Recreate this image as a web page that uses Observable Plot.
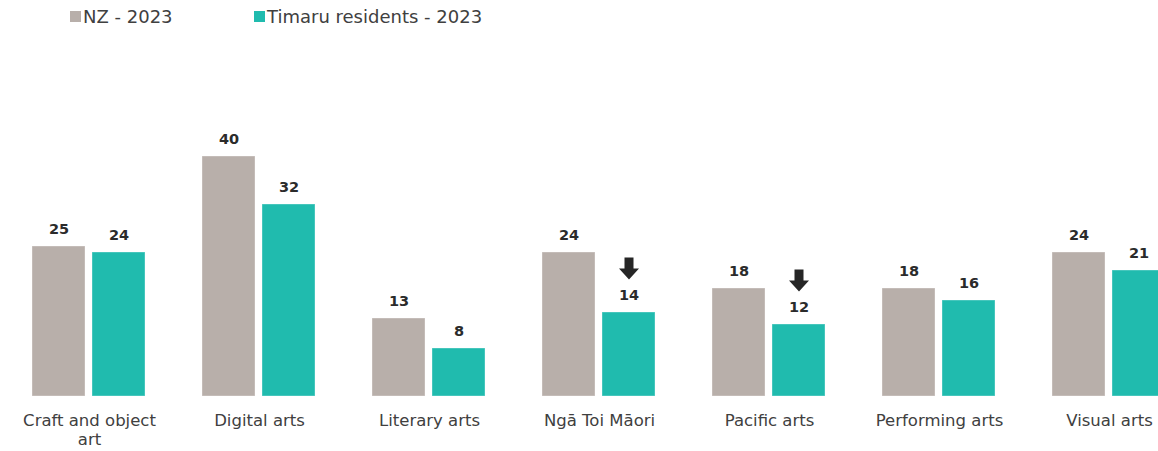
<!DOCTYPE html>
<html>
<head>
<meta charset="utf-8">
<script src="https://cdn.jsdelivr.net/npm/d3@7"></script>
<script src="https://cdn.jsdelivr.net/npm/@observablehq/plot@0.6"></script>
<style>
  body { margin: 0; background: #fff; }
  #wrap { position: relative; width: 1158px; height: 451px; overflow: hidden; font-family: "DejaVu Sans", sans-serif; color: #404040; }
  #legend { position: absolute; top: 0; left: 0; width: 1158px; height: 34px; }
  .item { position: absolute; top: 6px; font-size: 18px; line-height: 22px; white-space: nowrap; }
  .sw { display: inline-block; width: 11px; height: 11px; margin-right: 2px; vertical-align: 1px; }
  #chart { position: absolute; top: 0; left: 0; }
</style>
</head>
<body>
<div id="wrap">
  <div id="chart"></div>
  <div id="legend"></div>
</div>
<script>
const categories = ["Craft and object art", "Digital arts", "Literary arts", "Ngā Toi Māori", "Pacific arts", "Performing arts", "Visual arts"];
const series = ["NZ - 2023", "Timaru residents - 2023"];
const nzValues = [25, 40, 13, 24, 18, 18, 24];
const timaruValues = [24, 32, 8, 14, 12, 16, 21];
const timaruDecrease = [false, false, false, true, true, false, false];
const seriesColors = ["#B8AFAA", "#20BBAE"];

const data = [];
categories.forEach((c, i) => {
  data.push({category: c, series: series[0], value: nzValues[i], down: false});
  data.push({category: c, series: series[1], value: timaruValues[i], down: timaruDecrease[i]});
});

// legend
const legend = document.getElementById("legend");
const legendLeft = [70, 254];
series.forEach((s, i) => {
  const el = document.createElement("div");
  el.className = "item";
  el.style.left = legendLeft[i] + "px";
  el.innerHTML = `<span class="sw" style="background:${seriesColors[i]}"></span>${s}`;
  legend.appendChild(el);
});

const downArrow = {
  draw(ctx) {
    ctx.moveTo(-4.5, -11);
    ctx.lineTo(4.5, -11);
    ctx.lineTo(4.5, 0);
    ctx.lineTo(10, 0);
    ctx.lineTo(0, 11);
    ctx.lineTo(-10, 0);
    ctx.lineTo(-4.5, 0);
    ctx.closePath();
  }
};

const chart = Plot.plot({
  width: 1158,
  height: 451,
  marginTop: 36,
  marginBottom: 55,
  marginLeft: 0,
  marginRight: 0,
  style: {fontFamily: "DejaVu Sans, sans-serif", color: "#404040", background: "transparent", overflow: "visible"},
  fx: {domain: categories, range: [2.25, 1195.75], padding: 0, label: null},
  x: {domain: series, paddingInner: 0.1148, paddingOuter: 0.4549, axis: null},
  y: {domain: [0, 60], axis: null},
  color: {domain: series, range: seriesColors},
  marks: [
    Plot.barY(data, {fx: "category", x: "series", y: "value", fill: "series", stroke: "#ffffff", strokeOpacity: 0.35, strokeWidth: 1}),
    Plot.text(data, {fx: "category", x: "series", y: "value", text: d => String(d.value), dy: -13, lineAnchor: "bottom", fontWeight: "bold", fontSize: 14.5, fill: "#2b2b2b"}),
    Plot.dot(data.filter(d => d.down), {fx: "category", x: "series", y: "value", dy: -44, symbol: downArrow, r: 10, fill: "#262626", stroke: "none"}),
    Plot.axisFx({anchor: "bottom", tickSize: 0, tickPadding: 15, fontSize: 16.5, lineWidth: 8, lineHeight: 1.2, label: null, fill: "#404040"})
  ]
});
document.getElementById("chart").appendChild(chart);
</script>
</body>
</html>
